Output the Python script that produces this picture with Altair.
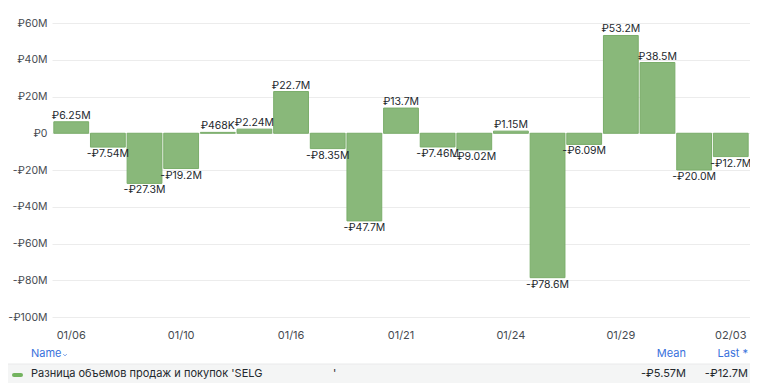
import altair as alt
import pandas as pd

# ---- data (values in millions of rubles) ----
dates = ["01/06", "01/08", "01/09", "01/10", "01/13", "01/14", "01/16", "01/17", "01/20",
         "01/21", "01/22", "01/23", "01/24", "01/27", "01/28", "01/29", "01/30", "01/31", "02/03"]
values = [6.25, -7.54, -27.3, -19.2, 0.468, 2.24, 22.7, -8.35, -47.7,
          13.7, -7.46, -9.02, 1.15, -78.6, -6.09, 53.2, 38.5, -20.0, -12.7]
tick_dates = ["01/06", "01/10", "01/16", "01/21", "01/24", "01/29", "02/03"]
y_ticks = [-100, -80, -60, -40, -20, 0, 20, 40, 60]
series_name = "Разница объемов продаж и покупок 'SELG"
series_tail = "'"

FONT = "Inter"
BAR_FILL = "#89b87a"
BAR_STROKE = "#7aad6a"
TEXT = "#24292e"
AXIS_TEXT = "#464b51"
BLUE = "#3871dc"


def fmt(v):
    sign = "-" if v < 0 else ""
    a = abs(v)
    if a < 1:
        return f"{sign}₽{a * 1000:.0f}K"
    if a >= 100:
        s = f"{a:.0f}"
    elif a >= 10:
        s = f"{a:.1f}"
    else:
        s = f"{a:.2f}"
    return f"{sign}₽{s}M"


df = pd.DataFrame({
    "date": dates,
    "value": values,
    "label": [fmt(v) for v in values],
})

mean_label = fmt(sum(values) / len(values))
last_label = fmt(values[-1])

x_enc = alt.X(
    "date:N", sort=dates,
    scale=alt.Scale(paddingInner=0.05, paddingOuter=0.05),
    axis=alt.Axis(values=tick_dates, labelAngle=0, ticks=False, domain=False, grid=False,
                  labelPadding=12, labelFontSize=11, title=None),
)
y_enc = alt.Y(
    "value:Q",
    scale=alt.Scale(domain=[-100, 60], nice=False, zero=True),
    axis=alt.Axis(values=y_ticks, ticks=False, domain=False, grid=True, gridColor="#ececec",
                  labelPadding=5, labelFontSize=10.5, title=None,
                  labelExpr="datum.value == 0 ? '₽0' : (datum.value < 0 ? '-' : '') + '₽' + abs(datum.value) + 'M'"),
)

base = alt.Chart(df).encode(x=x_enc, y=y_enc)

bars = base.mark_bar(fill=BAR_FILL, stroke=BAR_STROKE, strokeWidth=1)

pos_text = base.transform_filter("datum.value >= 0").mark_text(
    baseline="bottom", dy=-1, font=FONT, fontSize=10.5, color=TEXT
).encode(text="label:N")

neg_text = base.transform_filter("datum.value < 0").mark_text(
    baseline="top", dy=2, font=FONT, fontSize=10.5, color=TEXT
).encode(text="label:N")

# ---- legend table below the plot (plot origin at page x=52, y=23) ----
leg = alt.Chart(pd.DataFrame({
    "name": [series_name], "tail": [series_tail],
    "mean": [mean_label], "last": [last_label],
    "h_name": ["Name"], "h_mean": ["Mean"], "h_last": ["Last *"],
}))

row_bg = leg.mark_rect(color="#f4f5f5").encode(
    x=alt.value(-48), x2=alt.value(700), y=alt.value(341), y2=alt.value(362))
row_line = leg.mark_rule(color="#e9eaeb", strokeWidth=1).encode(
    x=alt.value(-48), x2=alt.value(700), y=alt.value(341))
swatch = leg.mark_rule(color="#73b35f", strokeWidth=4, strokeCap="round").encode(
    x=alt.value(-38), x2=alt.value(-31), y=alt.value(352))
chevron = leg.mark_point(shape="M-1,-0.5L0,0.5L1,-0.5", filled=False, color=BLUE,
                         strokeWidth=1, size=12).encode(x=alt.value(13), y=alt.value(332))

def txt(field, x, y, align="left", color=TEXT, size=11):
    return leg.mark_text(align=align, baseline="middle", font=FONT, fontSize=size,
                         color=color).encode(x=alt.value(x), y=alt.value(y), text=f"{field}:N")

legend_layers = [
    row_bg, row_line, swatch, chevron,
    txt("h_name", -21, 331, color=BLUE),
    txt("h_mean", 634, 331, align="right", color=BLUE),
    txt("h_last", 696, 331, align="right", color=BLUE),
    txt("name", -21, 351),
    txt("tail", 281, 351),
    txt("mean", 634, 351, align="right"),
    txt("last", 696, 351, align="right"),
]

chart = alt.layer(bars, pos_text, neg_text, *legend_layers).properties(
    width=698, height=294,
    autosize=alt.AutoSizeParams(type="none"),
    padding={"left": 44, "top": 15, "right": 0, "bottom": 66},
).configure_view(stroke=None).configure_axis(
    labelOverlap=False, labelFont=FONT, labelColor=AXIS_TEXT, labelBound=False
)

chart.save("out.html", embed_options={"renderer": "svg", "actions": False})
